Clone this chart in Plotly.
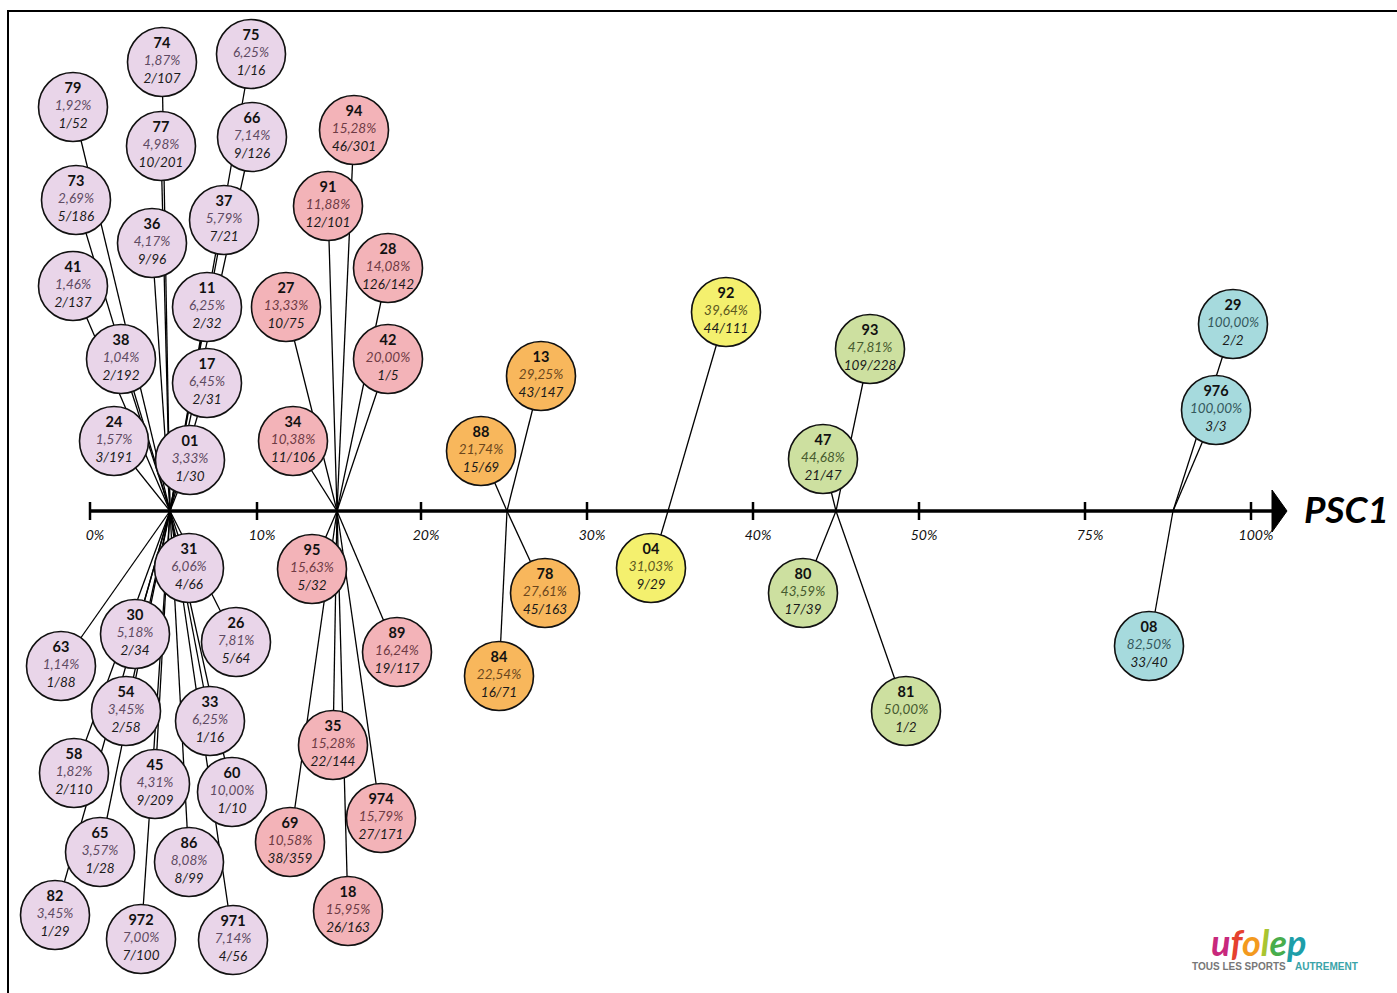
import plotly.graph_objects as go

# ---------------- data ----------------
TICK_LABELS = ["0%", "10%", "20%", "30%", "40%", "50%", "75%", "100%"]
BIN_UPPER = [10, 20, 30, 40, 50, 75, 100]          # upper edge (%) of each interval

CODES = ["79", "74", "75", "77", "66", "73", "36", "37", "41", "11", "38", "17", "24", "01",
         "31", "30", "26", "63", "54", "33", "58", "45", "60", "65", "86", "82", "972", "971",
         "94", "91", "28", "27", "42", "34", "95", "89", "35", "974", "69", "18",
         "13", "88", "78", "84",
         "92", "04",
         "93", "47", "80", "81",
         "29", "976", "08"]
PCTS = [1.92, 1.87, 6.25, 4.98, 7.14, 2.69, 4.17, 5.79, 1.46, 6.25, 1.04, 6.45, 1.57, 3.33,
        6.06, 5.18, 7.81, 1.14, 3.45, 6.25, 1.82, 4.31, 10.00, 3.57, 8.08, 3.45, 7.00, 7.14,
        15.28, 11.88, 14.08, 13.33, 20.00, 10.38, 15.63, 16.24, 15.28, 15.79, 10.58, 15.95,
        29.25, 21.74, 27.61, 22.54,
        39.64, 31.03,
        47.81, 44.68, 43.59, 50.00,
        100.00, 100.00, 82.50]
FRACTIONS = ["1/52", "2/107", "1/16", "10/201", "9/126", "5/186", "9/96", "7/21", "2/137", "2/32",
             "2/192", "2/31", "3/191", "1/30",
             "4/66", "2/34", "5/64", "1/88", "2/58", "1/16", "2/110", "9/209", "1/10", "1/28",
             "8/99", "1/29", "7/100", "4/56",
             "46/301", "12/101", "126/142", "10/75", "1/5", "11/106", "5/32", "19/117", "22/144",
             "27/171", "38/359", "26/163",
             "43/147", "15/69", "45/163", "16/71",
             "44/111", "9/29",
             "109/228", "21/47", "17/39", "1/2",
             "2/2", "3/3", "33/40"]

# ---------------- layout (positions / styles) ----------------
W, H = 1397, 993
AXIS_Y = 511
TICK_PX = [90, 257, 421, 587, 753, 919, 1085, 1251]
HUB_PX = [170, 337, 507, 668, 836, 1002, 1173]
BIN_COLORS = ["#e9d5e9", "#f3b3b8", "#f8b75c", "#f4f06e", "#cde0a0", "#cde0a0", "#a6dadd"]
PCT_COLORS = ["#5e4a62", "#6e3a44", "#6a461c", "#5c5820", "#465a2e", "#465a2e", "#34585c"]
BUBBLE_XY = [(73, 107), (162, 62), (251, 54), (161, 146), (252, 137), (76, 200), (152, 243),
             (224, 220), (73, 286), (207, 307), (121, 359), (207, 383), (114, 441), (190, 460),
             (189, 568), (135, 634), (236, 642), (61, 666), (126, 711), (210, 721), (74, 773),
             (155, 784), (232, 792), (100, 852), (189, 862), (55, 915), (141, 939), (233, 940),
             (354, 130), (328, 206), (388, 268), (286, 307), (388, 359), (293, 441), (312, 569),
             (397, 652), (333, 745), (381, 818), (290, 842), (348, 911),
             (541, 376), (481, 451), (545, 593), (499, 676),
             (726, 312), (651, 568),
             (870, 349), (823, 459), (803, 593), (906, 711),
             (1233, 324), (1216, 410), (1149, 646)]

FONT = "Lato"


def bin_of(p):
    for i, up in enumerate(BIN_UPPER):
        if p <= up + 1e-9:
            return i
    return len(BIN_UPPER) - 1


bins = [bin_of(p) for p in PCTS]

fig = go.Figure()

# connector lines from each bubble to its interval hub on the axis
lx, ly = [], []
for (bx, by), b in zip(BUBBLE_XY, bins):
    lx += [HUB_PX[b], bx, None]
    ly += [AXIS_Y, by, None]
fig.add_trace(go.Scatter(x=lx, y=ly, mode="lines", line=dict(color="black", width=1.3),
                         hoverinfo="skip", showlegend=False))

# main axis line
fig.add_trace(go.Scatter(x=[TICK_PX[0], 1274], y=[AXIS_Y, AXIS_Y], mode="lines",
                         line=dict(color="black", width=3.5), hoverinfo="skip", showlegend=False))
# tick marks
tx, ty = [], []
for t in TICK_PX:
    tx += [t, t, None]
    ty += [AXIS_Y - 9, AXIS_Y + 9, None]
fig.add_trace(go.Scatter(x=tx, y=ty, mode="lines", line=dict(color="black", width=2.5),
                         hoverinfo="skip", showlegend=False))
# arrow head
fig.add_trace(go.Scatter(x=[1272, 1287, 1272, 1272], y=[AXIS_Y - 21, AXIS_Y, AXIS_Y + 21, AXIS_Y - 21],
                         mode="lines", fill="toself", fillcolor="black", line=dict(color="black", width=1),
                         hoverinfo="skip", showlegend=False))
# tick labels
fig.add_trace(go.Scatter(x=[t + 5 for t in TICK_PX], y=[AXIS_Y + 25] * len(TICK_PX), mode="text",
                         text=["<i>%s</i>" % s for s in TICK_LABELS],
                         textfont=dict(family=FONT, size=14, color="#111"),
                         hoverinfo="skip", showlegend=False))

# bubbles
texts = []
for c, p, f, b in zip(CODES, PCTS, FRACTIONS, bins):
    pct = ("%.2f" % p).replace(".", ",") + "%"
    texts.append("<span style='font-size:14.5px;color:#111'><b>%s</b></span><br>"
                 "<span style='color:%s'><i>%s</i></span><br>"
                 "<span style='color:#1a1a1a'><i>%s</i></span>" % (c, PCT_COLORS[b], pct, f))
fig.add_trace(go.Scatter(
    x=[xy[0] for xy in BUBBLE_XY], y=[xy[1] for xy in BUBBLE_XY],
    mode="markers+text", text=texts, textposition="middle center",
    textfont=dict(family=FONT, size=13.5, color="#222"),
    marker=dict(size=69, color=[BIN_COLORS[b] for b in bins],
                line=dict(color="#111", width=1.6)),
    hoverinfo="skip", showlegend=False))

annotations = [
    dict(x=1302, y=AXIS_Y - 3, xref="x", yref="y", text="<b><i>PSC1</i></b>", showarrow=False,
         xanchor="left", yanchor="middle", font=dict(family=FONT, size=37, color="black")),
]
# logo
logo_letters = ["u", "f", "o", "l", "e", "p"]
logo_colors = ["#c8287c", "#e5412f", "#f39a1e", "#a9c531", "#48ad4c", "#1d9ea9"]
logo_txt = "".join("<span style='color:%s'>%s</span>" % (col, ch)
                   for ch, col in zip(logo_letters, logo_colors))
annotations.append(dict(x=1209, y=942, xref="x", yref="y", text="<b><i>%s</i></b>" % logo_txt,
                        showarrow=False, xanchor="left", yanchor="middle",
                        font=dict(family=FONT, size=36, color="#c8287c")))
annotations.append(dict(x=1190, y=966, xref="x", yref="y", text="<b>TOUS LES SPORTS</b>",
                        showarrow=False, xanchor="left", yanchor="middle",
                        font=dict(family="Liberation Sans", size=10, color="#777")))
annotations.append(dict(x=1293, y=966, xref="x", yref="y", text="<b>AUTREMENT</b>",
                        showarrow=False, xanchor="left", yanchor="middle",
                        font=dict(family="Liberation Sans", size=10, color="#3aa3a8")))

shapes = [
    dict(type="rect", xref="x", yref="y", x0=8, y0=11, x1=1402, y1=1000,
         line=dict(color="black", width=2), fillcolor="rgba(0,0,0,0)", layer="below"),
]

fig.update_layout(
    width=W, height=H, margin=dict(l=0, r=0, t=0, b=0),
    paper_bgcolor="white", plot_bgcolor="white",
    xaxis=dict(range=[0, W], visible=False, fixedrange=True),
    yaxis=dict(range=[H, 0], visible=False, fixedrange=True),
    annotations=annotations, shapes=shapes,
)

fig.write_html("out.html", config={"displayModeBar": False},
               post_script="document.body.style.margin='0';document.body.style.overflow='hidden';")
